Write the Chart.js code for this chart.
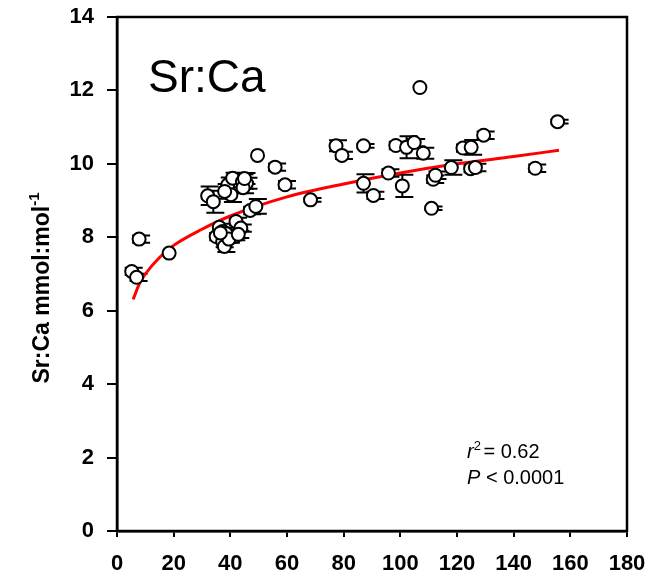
<!DOCTYPE html>
<html>
<head>
<meta charset="utf-8">
<script src="https://cdn.jsdelivr.net/npm/chart.js@4/dist/chart.umd.min.js"></script>
<style>
  html, body { margin: 0; padding: 0; background: #fff; }
  #wrap { width: 652px; height: 579px; position: relative; }
</style>
</head>
<body>
<div id="wrap"><canvas id="chart" width="652" height="579"></canvas></div>
<script>
// Sr:Ca ratio vs x
const pointX = [5.2, 6.9, 7.8, 18.4, 32.0, 34.0, 36.1, 35.0, 37.3, 37.9, 39.1, 40.2, 40.8, 44.3, 45.7,
    42.0, 43.7, 41.4, 47.0, 49.0, 37.3, 38.5, 39.5, 36.5, 42.8, 44.5, 38.0, 45.0,
    49.6, 55.8, 59.3, 68.3, 77.3, 79.4, 87.0, 87.0, 90.5, 95.8, 98.4, 100.7, 102.2, 104.9,
    106.9, 108.1, 111.0, 111.6, 112.4, 118.0, 122.1, 124.8, 125.0, 126.5, 129.4, 147.6, 155.5];
const pointY = [7.07, 6.91, 7.95, 7.57, 9.13, 8.97, 8.27, 8.02, 7.88, 7.75, 9.43, 9.16, 9.61, 9.52, 9.47,
    8.43, 8.25, 8.02, 8.73, 8.84, 8.16, 8.10, 7.95, 8.12, 8.08, 9.35, 9.25, 9.60,
    10.23, 9.91, 9.43, 9.02, 10.49, 10.23, 10.49, 9.47, 9.14, 9.75, 10.50, 9.40, 10.45, 10.58,
    12.08, 10.29, 8.79, 9.58, 9.69, 9.90, 10.43, 9.87, 10.45, 9.90, 10.78, 9.88, 11.15];
const pointErr = [0.1, 0.1, 0.1, 0, 0.25, 0.3, 0.1, 0.1, 0.15, 0.15, 0.2, 0.2, 0.15, 0.2, 0.15,
    0.1, 0.1, 0.1, 0.1, 0.2, 0.1, 0.1, 0.1, 0.1, 0.1, 0.15, 0.2, 0.15,
    0, 0.1, 0.1, 0.05, 0.15, 0.1, 0.05, 0.25, 0.1, 0.1, 0.1, 0.3, 0.3, 0.1,
    0, 0.15, 0.05, 0.1, 0.1, 0.2, 0.1, 0.1, 0.2, 0.1, 0.1, 0.1, 0.05];

// fitted curve
const fitX = [5.7, 8, 10, 15, 20, 30, 40, 60, 80, 100, 120, 140, 156];
const fitY = [6.31, 6.75, 7.0, 7.45, 7.78, 8.22, 8.58, 9.1, 9.45, 9.75, 10.0, 10.2, 10.37];

const xTicks = [0, 20, 40, 60, 80, 100, 120, 140, 160, 180];
const yTicks = [0, 2, 4, 6, 8, 10, 12, 14];

const FONT = 'Arial, "Liberation Sans", Helvetica, sans-serif';

// error bars under the circles
const errorBars = {
    id: 'errorBars',
    beforeDatasetsDraw(chart) {
        const { ctx, scales: { x, y } } = chart;
        ctx.save();
        ctx.strokeStyle = '#000';
        ctx.lineWidth = 2;
        pointX.forEach((v, i) => {
            const e = pointErr[i];
            if (!e) return;
            const px = x.getPixelForValue(v);
            const lo = y.getPixelForValue(pointY[i] - e);
            const hi = y.getPixelForValue(pointY[i] + e);
            ctx.beginPath();
            ctx.moveTo(px, lo); ctx.lineTo(px, hi);
            ctx.moveTo(px - 7, lo); ctx.lineTo(px + 11, lo);
            ctx.moveTo(px - 7, hi); ctx.lineTo(px + 11, hi);
            ctx.stroke();
        });
        ctx.restore();
    }
};

// box frame, panel label, stats and y title
const decorations = {
    id: 'decorations',
    afterDraw(chart) {
        const { ctx, chartArea: a } = chart;
        ctx.save();
        ctx.strokeStyle = '#000';
        ctx.lineWidth = 2.5;
        ctx.strokeRect(a.left, a.top, a.right - a.left, a.bottom - a.top);

        ctx.fillStyle = '#000';
        ctx.textBaseline = 'alphabetic';
        ctx.font = '46px ' + FONT;
        ctx.fillText('Sr:Ca', 148, 92);

        ctx.font = 'italic 20px ' + FONT;
        ctx.fillText('r', 467, 458);
        let w = ctx.measureText('r').width;
        ctx.font = '13px ' + FONT;
        ctx.fillText('2', 467 + w, 450);
        let w2 = ctx.measureText('2').width;
        ctx.font = '20px ' + FONT;
        ctx.fillText(' = 0.62', 467 + w + w2 - 3, 458);
        ctx.font = 'italic 20px ' + FONT;
        ctx.fillText('P', 467, 484);
        w = ctx.measureText('P').width;
        ctx.font = '20px ' + FONT;
        ctx.fillText(' < 0.0001', 467 + w, 484);

        // rotated y title with superscript
        ctx.translate(49, 288);
        ctx.rotate(-Math.PI / 2);
        ctx.font = 'bold 23px ' + FONT;
        const main = 'Sr:Ca mmol:mol';
        const sup = '-1';
        const mw = ctx.measureText(main).width;
        ctx.font = 'bold 15px ' + FONT;
        const sw = ctx.measureText(sup).width;
        const start = -(mw + sw) / 2;
        ctx.font = 'bold 23px ' + FONT;
        ctx.fillText(main, start, 0);
        ctx.font = 'bold 15px ' + FONT;
        ctx.fillText(sup, start + mw, -10);
        ctx.restore();
    }
};

new Chart(document.getElementById('chart'), {
    type: 'scatter',
    data: {
        datasets: [{
            label: 'Sr:Ca',
            data: pointX.map((v, i) => ({ x: v, y: pointY[i] })),
            pointRadius: 6.5,
            pointHoverRadius: 6.5,
            pointBackgroundColor: '#fff',
            pointBorderColor: '#000',
            pointBorderWidth: 2,
            showLine: false
        }, {
            label: 'fit',
            data: fitX.map((v, i) => ({ x: v, y: fitY[i] })),
            showLine: true,
            borderColor: '#ff0000',
            borderWidth: 3,
            pointRadius: 0,
            cubicInterpolationMode: 'monotone',
            fill: false
        }]
    },
    options: {
        responsive: false,
        animation: false,
        layout: { padding: { top: 17, right: 25, left: 0, bottom: 0 } },
        plugins: {
            legend: { display: false },
            tooltip: { enabled: false }
        },
        scales: {
            x: {
                type: 'linear',
                min: 0,
                max: 180,
                afterBuildTicks: (scale) => { scale.ticks = xTicks.map(v => ({ value: v })); },
                afterFit: (scale) => {
                    scale.height = 48;
                    scale.paddingLeft = 0;
                    scale.paddingRight = 0;
                },
                ticks: {
                    color: '#000',
                    padding: 14,
                    font: { family: FONT, size: 22, weight: 'bold' }
                },
                grid: { drawOnChartArea: false, drawTicks: true, tickLength: 6, color: '#000', lineWidth: 2 },
                border: { display: true, color: '#000', width: 2.5 }
            },
            y: {
                type: 'linear',
                min: 0,
                max: 14,
                afterBuildTicks: (scale) => { scale.ticks = yTicks.map(v => ({ value: v })); },
                afterFit: (scale) => {
                    scale.width = 117;
                    scale.paddingTop = 0;
                    scale.paddingBottom = 0;
                },
                ticks: {
                    color: '#000',
                    padding: 13,
                    font: { family: FONT, size: 22, weight: 'bold' }
                },
                grid: { drawOnChartArea: false, drawTicks: true, tickLength: 10, color: '#000', lineWidth: 2 },
                border: { display: true, color: '#000', width: 2.5 }
            }
        }
    },
    plugins: [errorBars, decorations]
});
</script>
</body>
</html>
